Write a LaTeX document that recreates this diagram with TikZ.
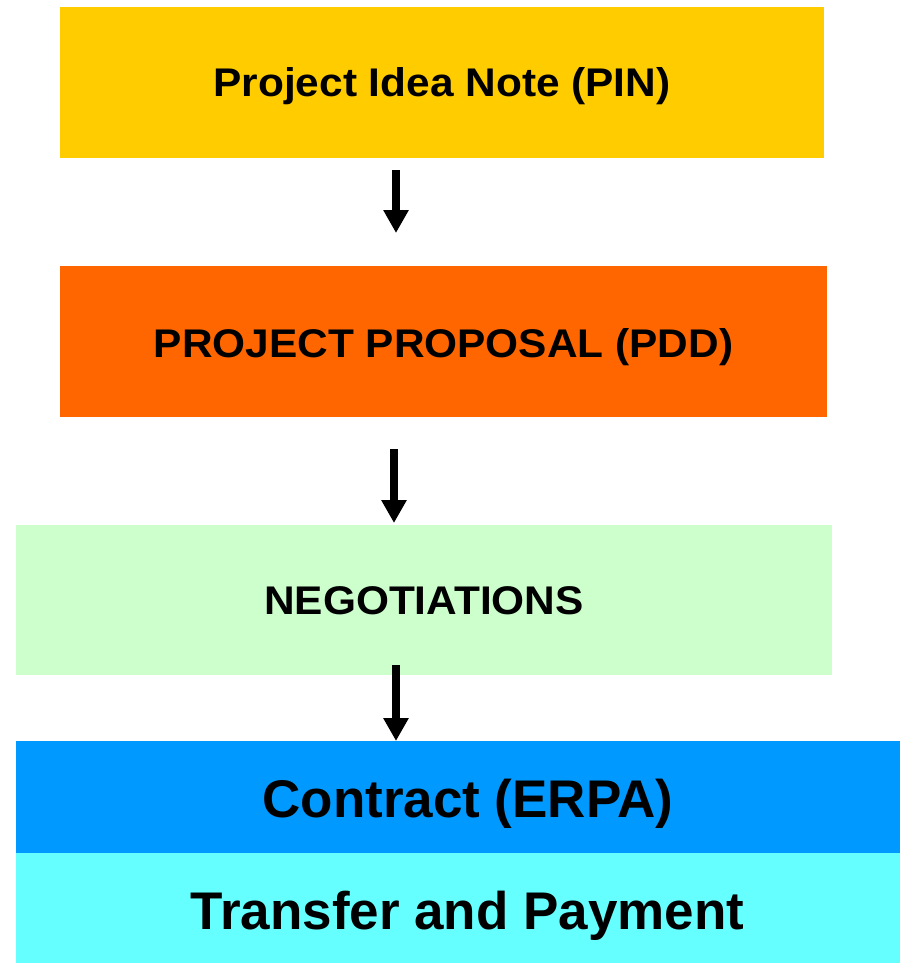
\documentclass[tikz,border=0pt]{standalone}
\usepackage{fontspec}
\setmainfont{Liberation Sans}
\newfontfamily\stagefont{Liberation Sans}[FakeStretch=1.06]
\usetikzlibrary{arrows.meta}
\definecolor{cPin}{HTML}{FFCC00}
\definecolor{cPdd}{HTML}{FF6600}
\definecolor{cNeg}{HTML}{CCFFCC}
\definecolor{cErpa}{HTML}{0099FF}
\definecolor{cPay}{HTML}{66FFFF}
\tikzset{
  stagebox/.style={draw=none, inner sep=0pt, outer sep=0pt, align=center,
    text depth=0pt, font=\stagefont\bfseries\fontsize{40}{48}\selectfont},
  bigbox/.style={stagebox, font=\bfseries\fontsize{53}{62}\selectfont},
  flow/.style={line width=8pt, line cap=butt, -{Triangle[length=23pt,width=24pt]}}
}
\begin{document}
\begin{tikzpicture}[x=1pt,y=-1pt]
\useasboundingbox (0,0) rectangle (900,963);
\node[stagebox, fill=cPin, minimum width=764pt, minimum height=151pt, text height=28.64pt] (pin) at (442,82.5) {Project Idea Note (PIN)};
\node[stagebox, fill=cPdd, minimum width=767pt, minimum height=151pt, text height=31.64pt] (pdd) at (443.5,341.5) {PROJECT PROPOSAL (PDD)};
\node[stagebox, fill=cNeg, minimum width=816pt, minimum height=150pt, text height=29.64pt] (neg) at (424,600) {NEGOTIATIONS};
\node[bigbox, fill=cErpa, minimum width=884pt, minimum height=112pt, text height=40.95pt] (erpa) at (458,797) {\hspace*{20pt}Contract (ERPA)};
\node[bigbox, fill=cPay, minimum width=884pt, minimum height=110pt, text height=43.95pt] (pay) at (458,908) {\hspace*{19pt}Transfer and Payment};
\coordinate (a1s) at (396,170);
\coordinate (a1e) at (396,233);
\coordinate (a2s) at (394,449);
\coordinate (a2e) at (394,523);
\coordinate (a3s) at (396,665);
\draw[flow] (a1s) -- (a1e);
\draw[flow] (a2s) -- (a2e);
\draw[flow] (a3s) -- (a3s |- erpa.north);
\end{tikzpicture}
\end{document}
